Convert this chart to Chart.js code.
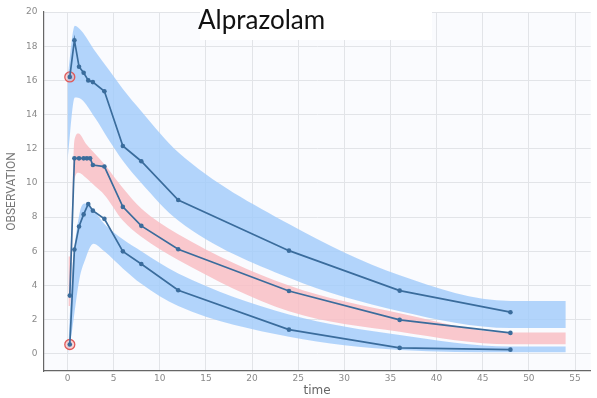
<!DOCTYPE html>
<html>
<head>
<meta charset="utf-8">
<script src="https://cdn.jsdelivr.net/npm/chart.js@4.4.0/dist/chart.umd.min.js"></script>
<style>
  html, body { margin: 0; padding: 0; background: #ffffff; }
  #wrap { width: 597px; height: 398px; position: relative; }
</style>
</head>
<body>
<div id="wrap"><canvas id="c" width="597" height="398"></canvas></div>
<script>
// ---- Observed percentiles ----
const timesObs = [0.25, 0.75, 1.25, 1.75, 2.25, 2.75, 4, 6, 8, 12, 24, 36, 48];
const obsUpper = [16.2, 18.35, 16.8, 16.45, 16.0, 15.9, 15.36, 12.16, 11.27, 9.0, 6.04, 3.7, 2.44];
const obsLower = [0.55, 6.1, 7.45, 8.16, 8.77, 8.38, 7.9, 6.0, 5.26, 3.72, 1.42, 0.35, 0.25];
const timesMedian = [0.25, 0.75, 1.25, 1.75, 2.1, 2.45, 2.75, 4, 6, 8, 12, 24, 36, 48];
const obsMedian = [3.41, 11.44, 11.44, 11.44, 11.44, 11.44, 11.05, 10.96, 8.6, 7.49, 6.12, 3.68, 1.99, 1.23];
// flagged (outlier) observations
const flaggedTimes = [0.25, 0.25];
const flaggedValues = [16.2, 0.55];

// ---- Prediction intervals (bands) ----
const upperBandTimes = [0, 0.8, 1.5, 3, 4.5, 6, 8, 12, 24, 36, 48, 54];
const upperBandHi = [16.1, 19.2, 18.9, 17.7, 16.6, 15.5, 14.2, 11.8, 7.6, 4.6, 3.1, 3.1];
const upperBandLo = [11.3, 15.0, 14.9, 13.8, 12.5, 11.3, 10.0, 7.8, 4.45, 2.5, 1.52, 1.52];

const medianBandTimes = [0.1, 0.3, 0.75, 1.2, 2, 3, 4, 6, 8, 12, 24, 36, 48, 54];
const medianBandHi = [5.7, 5.7, 12.5, 12.9, 12.3, 11.7, 11.1, 9.7, 8.5, 7.0, 4.0, 2.38, 1.25, 1.25];
const medianBandLo = [2.8, 2.8, 10.2, 10.6, 10.3, 9.8, 9.3, 7.8, 6.85, 5.5, 2.5, 1.3, 0.56, 0.56];

const lowerBandTimes = [0.1, 0.45, 1.3, 1.9, 2.8, 4, 6, 8, 12, 24, 36, 48, 54];
const lowerBandHi = [0.5, 4.3, 8.2, 8.8, 8.4, 7.6, 6.7, 6.0, 4.7, 2.3, 1.1, 0.43, 0.43];
const lowerBandLo = [0.0, 1.2, 4.4, 5.5, 6.45, 6.0, 5.0, 4.1, 2.8, 1.0, 0.23, 0.1, 0.1];

// ---- Axis ticks ----
const xTicks = [0, 5, 10, 15, 20, 25, 30, 35, 40, 45, 50, 55];
const yTicks = [0, 2, 4, 6, 8, 10, 12, 14, 16, 18, 20];

const titleText = 'Alprazolam';
const xTitle = 'time';
const yTitle = 'OBSERVATION';

const pts = (xs, ys) => xs.map((x, i) => ({x: x, y: ys[i]}));

const BLUE_BAND = 'rgba(160, 202, 250, 0.8)';
const PINK_BAND = 'rgba(248, 190, 196, 0.85)';
const LINE = '#3a6c9c';

function bandPair(xs, lo, hi, color) {
  return [
    { data: pts(xs, lo), showLine: true, borderWidth: 0, borderColor: 'rgba(0,0,0,0)',
      pointRadius: 0, fill: false, cubicInterpolationMode: 'monotone', order: 10 },
    { data: pts(xs, hi), showLine: true, borderWidth: 0, borderColor: 'rgba(0,0,0,0)',
      pointRadius: 0, fill: '-1', backgroundColor: color, cubicInterpolationMode: 'monotone', order: 10 }
  ];
}
function obsLine(xs, ys) {
  return { data: pts(xs, ys), showLine: true, borderColor: LINE, borderWidth: 1.7,
    pointRadius: 2.3, pointBackgroundColor: LINE, pointBorderColor: LINE, pointBorderWidth: 0,
    fill: false, tension: 0, order: 0 };
}

const bgPlugin = {
  id: 'bg',
  beforeDraw(chart) {
    const {ctx, chartArea: a} = chart;
    ctx.save();
    ctx.fillStyle = '#fafbfe';
    ctx.fillRect(a.left, a.top, a.right - a.left, a.bottom - a.top);
    ctx.restore();
  }
};
const titlePlugin = {
  id: 'titleBox',
  afterDraw(chart) {
    const ctx = chart.ctx;
    ctx.save();
    ctx.fillStyle = '#ffffff';
    ctx.fillRect(200, 0, 232, 40);
    ctx.fillStyle = '#111111';
    ctx.font = '26px Lato';
    ctx.textBaseline = 'alphabetic';
    ctx.textAlign = 'left';
    ctx.fillText(titleText, 198, 29);
    ctx.restore();
  }
};

new Chart(document.getElementById('c'), {
  type: 'scatter',
  data: {
    datasets: [
      ...bandPair(upperBandTimes, upperBandLo, upperBandHi, BLUE_BAND),
      ...bandPair(medianBandTimes, medianBandLo, medianBandHi, PINK_BAND),
      ...bandPair(lowerBandTimes, lowerBandLo, lowerBandHi, BLUE_BAND),
      { data: pts(flaggedTimes, flaggedValues), showLine: false, pointRadius: 5, order: 5,
        pointBackgroundColor: 'rgba(240,150,150,0.35)', pointBorderColor: '#e05a5a', pointBorderWidth: 1.3 },
      obsLine(timesObs, obsUpper),
      obsLine(timesMedian, obsMedian),
      obsLine(timesObs, obsLower)
    ]
  },
  options: {
    responsive: false,
    animation: false,
    devicePixelRatio: 1,
    layout: { padding: { top: 12, right: 0, left: 0, bottom: 0 } },
    plugins: { legend: { display: false }, tooltip: { enabled: false }, title: { display: false } },
    scales: {
      x: {
        type: 'linear', min: -2.6, max: 56.7,
        afterBuildTicks: s => { s.ticks = xTicks.map(v => ({value: v})); },
        afterFit: s => { s.height = 27; },
        grid: { color: '#e2e4e8', drawTicks: false },
        border: { color: '#666', width: 1.2 },
        ticks: { color: '#8a8a8a', font: { size: 9, family: 'DejaVu Sans' }, padding: 2, maxRotation: 0 },
        title: { display: true, text: xTitle, color: '#666', font: { size: 12, family: 'DejaVu Sans' }, padding: { top: 5, bottom: 0 } }
      },
      y: {
        type: 'linear', min: -1, max: 20,
        afterBuildTicks: s => { s.ticks = yTicks.map(v => ({value: v})); },
        afterFit: s => { s.width = 43.5; },
        grid: { color: '#e2e4e8', drawTicks: false },
        border: { color: '#666', width: 1.2 },
        ticks: { color: '#8a8a8a', font: { size: 9, family: 'DejaVu Sans' }, padding: 6 },
        title: { display: true, text: yTitle, color: '#777', font: { size: 12, family: 'Roboto' }, padding: { top: 5, bottom: 0 } }
      }
    }
  },
  plugins: [bgPlugin, titlePlugin]
});
</script>
</body>
</html>
